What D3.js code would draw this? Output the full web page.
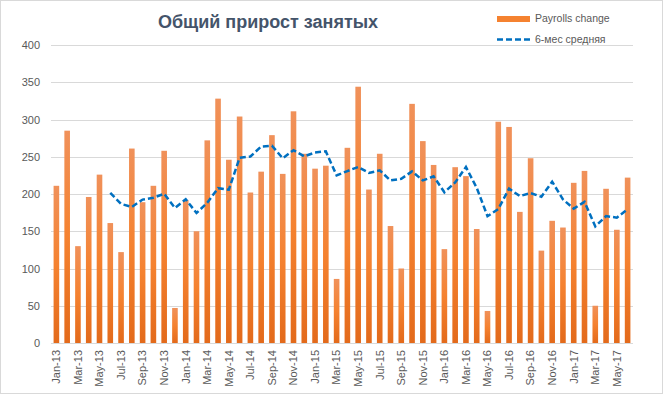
<!DOCTYPE html>
<html lang="ru">
<head>
  <meta charset="UTF-8">
  <title>Общий прирост занятых</title>
  <style type="text/css" media="all">
    body { margin: 0; background: #fff; }
    svg { font-family: "Liberation Sans", Arial, sans-serif; }
  </style>
</head>
<body>
  <div id="chart"></div>
  <script src="https://cdn.jsdelivr.net/npm/d3@7/dist/d3.min.js" charset="utf-8"></script>
  <script>
    var months = ['Jan', 'Feb', 'Mar', 'Apr', 'May', 'Jun', 'Jul', 'Aug', 'Sep', 'Oct', 'Nov', 'Dec'];

    // Jan-13 .. Jun-17
    var categories = [];
    for (var yr = 13; yr <= 17; yr++) {
      months.forEach(function(m, i) {
        if (yr < 17 || i < 6) categories.push(m + '-' + yr);
      });
    }

    var payrolls = [
      211, 285, 130, 196, 226, 161, 122, 261, 189, 211, 258, 47,
      192, 150, 272, 328, 246, 304, 202, 230, 279, 227, 311, 254,
      234, 238, 86, 262, 344, 206, 254, 157, 100, 321, 271, 239,
      126, 236, 224, 153, 43, 297, 290, 176, 248, 124, 164, 155,
      215, 231, 50, 207, 152, 222
    ];

    // 6-month average, starts at Jun-13
    var avg6 = [
      null, null, null, null, null, 201.5, 186.7, 182.7, 192.5, 195, 200.3, 181.3,
      193, 174.5, 188.3, 207.8, 205.8, 248.7, 250.3, 263.7, 264.8, 248, 258.8, 250.5,
      255.8, 257.2, 225, 230.8, 236.3, 228.3, 231.7, 218.2, 220.5, 230.3, 218.2, 223.7,
      202.3, 215.5, 236.2, 208.2, 170.2, 179.8, 207.2, 197.2, 201.2, 196.3, 216.5, 192.8,
      180.3, 189.5, 156.5, 170.3, 168.3, 179.5
    ];

    var yTicks = [0, 50, 100, 150, 200, 250, 300, 350, 400];
    var xLabels = categories.filter(function(d, i) { return i % 2 === 0; });

    var width = 665, height = 398;
    var plot = { left: 51, right: 633, top: 45, bottom: 343 };

    var svg = d3.select('#chart').append('svg')
        .attr('width', width)
        .attr('height', height);

    var defs = svg.append('defs');
    var grad = defs.append('linearGradient')
        .attr('id', 'barFill')
        .attr('x1', 0).attr('y1', 0).attr('x2', 0).attr('y2', 1);
    grad.append('stop').attr('offset', '0%').attr('stop-color', '#F0915A');
    grad.append('stop').attr('offset', '50%').attr('stop-color', '#F58230');
    grad.append('stop').attr('offset', '100%').attr('stop-color', '#E36A1B');

    svg.append('rect')
        .attr('x', 0.5).attr('y', 0.5)
        .attr('width', 662).attr('height', 393)
        .attr('fill', '#fff')
        .attr('stroke', '#D9D9D9');

    var x = d3.scaleBand()
        .domain(categories)
        .range([plot.left, plot.right])
        .paddingInner(0.48)
        .paddingOuter(0.24);

    var y = d3.scaleLinear()
        .domain([0, 400])
        .range([plot.bottom, plot.top]);

    // gridlines
    svg.append('g')
        .selectAll('line')
        .data(yTicks)
        .join('line')
        .attr('x1', plot.left)
        .attr('x2', plot.right)
        .attr('y1', function(d) { return Math.round(y(d)) + 0.5; })
        .attr('y2', function(d) { return Math.round(y(d)) + 0.5; })
        .attr('stroke', '#D9D9D9')
        .attr('stroke-width', 1);

    // y axis labels
    var yAxis = svg.append('g')
        .attr('transform', 'translate(' + (plot.left - 11) + ',0)')
        .call(d3.axisLeft(y).tickValues(yTicks).tickSize(0).tickPadding(0));
    yAxis.select('.domain').remove();
    yAxis.selectAll('text')
        .attr('fill', '#595959')
        .style('font-size', '11px')
        .style('font-family', '"Liberation Sans", Arial, sans-serif');

    // bars
    svg.append('g')
        .selectAll('rect')
        .data(payrolls)
        .join('rect')
        .attr('x', function(d, i) { return x(categories[i]); })
        .attr('y', function(d) { return y(d); })
        .attr('width', x.bandwidth())
        .attr('height', function(d) { return y(0) - y(d); })
        .attr('fill', 'url(#barFill)');

    // moving average
    var line = d3.line()
        .defined(function(d) { return d != null; })
        .x(function(d, i) { return x(categories[i]) + x.bandwidth() / 2; })
        .y(function(d) { return y(d); });

    svg.append('path')
        .datum(avg6)
        .attr('d', line)
        .attr('fill', 'none')
        .attr('stroke', '#0070C0')
        .attr('stroke-width', 2.5)
        .attr('stroke-dasharray', '6,3');

    // x axis labels
    var xAxis = svg.append('g')
        .attr('transform', 'translate(0,' + plot.bottom + ')')
        .call(d3.axisBottom(x).tickValues(xLabels).tickSize(0).tickPadding(0));
    xAxis.select('.domain').remove();
    xAxis.selectAll('text')
        .attr('fill', '#595959')
        .style('font-size', '11px')
        .style('font-family', '"Liberation Sans", Arial, sans-serif')
        .attr('text-anchor', 'end')
        .attr('dy', '0.35em')
        .attr('transform', 'translate(0,7) rotate(-90)');

    // title
    svg.append('text')
        .attr('x', 268)
        .attr('y', 28)
        .attr('text-anchor', 'middle')
        .attr('fill', '#44546A')
        .style('font-size', '18px')
        .style('font-weight', 'bold')
        .text('Общий прирост занятых');

    // legend
    var legend = svg.append('g');
    legend.append('rect')
        .attr('x', 497).attr('y', 16)
        .attr('width', 33).attr('height', 6)
        .attr('fill', '#F58230');
    legend.append('text')
        .attr('x', 535).attr('y', 22)
        .attr('fill', '#595959')
        .style('font-size', '10.5px')
        .text('Payrolls change');
    legend.append('line')
        .attr('x1', 497).attr('x2', 530)
        .attr('y1', 39.5).attr('y2', 39.5)
        .attr('stroke', '#0070C0')
        .attr('stroke-width', 2.5)
        .attr('stroke-dasharray', '6,3');
    legend.append('text')
        .attr('x', 535).attr('y', 43)
        .attr('fill', '#595959')
        .style('font-size', '10.5px')
        .text('6-мес средняя');
  </script>
</body>
</html>
